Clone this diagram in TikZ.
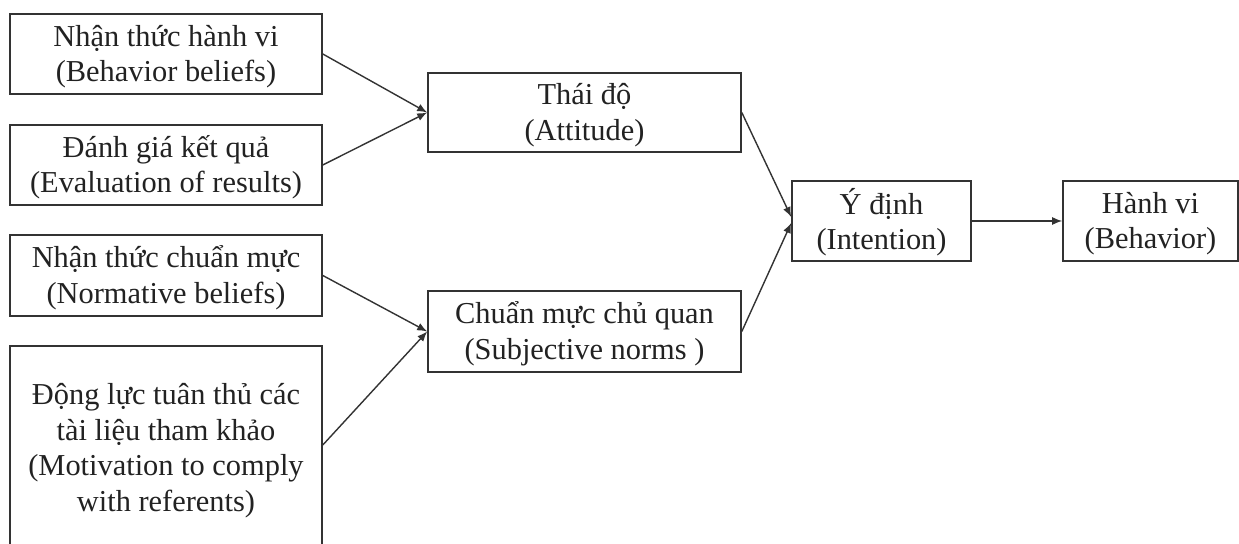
\documentclass[tikz,border=0pt]{standalone}
\usepackage{fontspec}
\setmainfont{Liberation Serif}
\usetikzlibrary{arrows.meta}
\definecolor{linec}{HTML}{333333}
\definecolor{textc}{HTML}{222222}
\newcommand{\boxtext}[1]{\raisebox{-1.5pt}[\height][\depth]{\begin{tabular}{@{}c@{}}#1\end{tabular}}}
\begin{document}
\begin{tikzpicture}[x=0.5pt,y=-0.5pt,
  box/.style={draw=linec, line width=0.8pt, rectangle, inner sep=0pt,
    text=textc, font=\fontsize{15.2pt}{17.7pt}\selectfont},
  conn/.style={draw=linec, line width=0.7pt, -{Latex[length=5pt,width=4pt]}}]
\useasboundingbox (0,0) rectangle (1239,544);
\clip (0,0) rectangle (1239,544);
\fill[white] (0,0) rectangle (1239,544);
\node[box, minimum width=156pt, minimum height=40pt] (bb) at (166,54) {\boxtext{Nhận thức hành vi\\(Behavior beliefs)}};
\node[box, minimum width=156pt, minimum height=40pt] (ev) at (166,165) {\boxtext{Đánh giá kết quả\\(Evaluation of results)}};
\node[box, minimum width=156pt, minimum height=40.5pt] (nb) at (166,275.5) {\boxtext{Nhận thức chuẩn mực\\(Normative beliefs)}};
\node[box, minimum width=156pt, minimum height=102pt] (mc) at (166,448) {\boxtext{Động lực tuân thủ các\\tài liệu tham khảo\\(Motivation to comply\\with referents)}};
\node[box, minimum width=156.5pt, minimum height=39.5pt] (att) at (584.5,112.5) {\boxtext{Thái độ\\(Attitude)}};
\node[box, minimum width=156.5pt, minimum height=40.5pt] (sn) at (584.5,331.5) {\boxtext{Chuẩn mực chủ quan\\(Subjective norms )}};
\node[box, minimum width=89.5pt, minimum height=40pt] (int) at (881.5,221) {\boxtext{Ý định\\(Intention)}};
\node[box, minimum width=87.5pt, minimum height=40pt] (beh) at (1150.5,221) {\boxtext{Hành vi\\(Behavior)}};
\draw[conn] (bb.east) -- (att.west);
\draw[conn] (ev.east) -- (att.west);
\draw[conn] (nb.east) -- (sn.west);
\draw[conn] ([yshift=1.5pt]mc.east) -- (sn.west);
\draw[conn] (att.east) -- ([yshift=2pt]int.west);
\draw[conn] (sn.east) -- ([yshift=-1pt]int.west);
\draw[conn] (int.east) -- (beh.west);
\end{tikzpicture}
\end{document}
